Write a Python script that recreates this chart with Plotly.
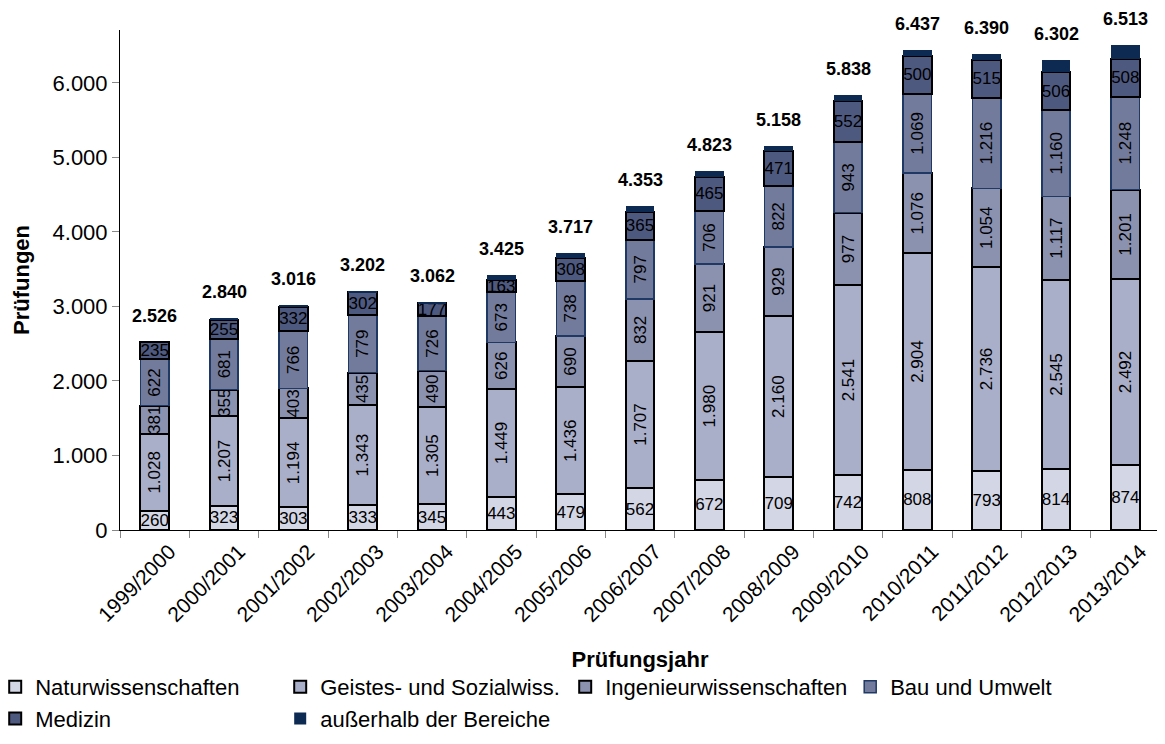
import plotly.graph_objects as go

YEARS = ["1999/2000", "2000/2001", "2001/2002", "2002/2003", "2003/2004",
         "2004/2005", "2005/2006", "2006/2007", "2007/2008", "2008/2009",
         "2009/2010", "2010/2011", "2011/2012", "2012/2013", "2013/2014"]

NATURWISS = [260, 323, 303, 333, 345, 443, 479, 562, 672, 709, 742, 808, 793, 814, 874]
GEISTES = [1028, 1207, 1194, 1343, 1305, 1449, 1436, 1707, 1980, 2160, 2541, 2904, 2736, 2545, 2492]
INGENIEUR = [381, 355, 403, 435, 490, 626, 690, 832, 921, 929, 977, 1076, 1054, 1117, 1201]
BAU = [622, 681, 766, 779, 726, 673, 738, 797, 706, 822, 943, 1069, 1216, 1160, 1248]
MEDIZIN = [235, 255, 332, 302, 177, 163, 308, 365, 465, 471, 552, 500, 515, 506, 508]
AUSSERHALB = [0, 19, 18, 10, 19, 71, 66, 90, 79, 67, 83, 80, 76, 160, 190]
TOTALS = [2526, 2840, 3016, 3202, 3062, 3425, 3717, 4353, 4823, 5158, 5838, 6437, 6390, 6302, 6513]

FONT = "Liberation Sans, Arial, sans-serif"

# name, values, fill, border colour, border width, text angle
SERIES = [
    ("Naturwissenschaften", NATURWISS, "#D3D6E4", "#000000", 2, 0),
    ("Geistes- und Sozialwiss.", GEISTES, "#A9AEC9", "#000000", 2, -90),
    ("Ingenieurwissenschaften", INGENIEUR, "#8B92B0", "#000000", 2, -90),
    ("Bau und Umwelt", BAU, "#737B9C", "#1F3864", 1.5, -90),
    ("Medizin", MEDIZIN, "#4E5980", "#000000", 2, 0),
]

fig = go.Figure()
for name, vals, fill, border, bw, angle in SERIES:
    fig.add_trace(go.Bar(
        x=YEARS, y=vals, name=name,
        marker=dict(color=fill, line=dict(color=border, width=bw)),
        texttemplate="%{y:,}", textposition="inside",
        insidetextanchor="middle", textangle=angle,
        textfont=dict(size=17, color="#000000", family=FONT),
        constraintext="none",
    ))

fig.add_trace(go.Bar(
    x=YEARS, y=AUSSERHALB, name="außerhalb der Bereiche",
    marker=dict(color="#0C2A52", line=dict(width=0)),
))

# bold totals above each stack
for year, total in zip(YEARS, TOTALS):
    fig.add_annotation(
        x=year, y=total, yanchor="bottom", yshift=14, showarrow=False,
        text=f"<b>{total:,}</b>".replace(",", "."),
        font=dict(size=18, color="#000000", family=FONT),
    )

# page body has an 8px margin, so the figure is 8px smaller and shifted
fig.update_layout(
    barmode="stack",
    bargap=0.59,
    separators=",.",
    width=1157, height=736,
    paper_bgcolor="white", plot_bgcolor="white",
    font=dict(family=FONT, size=22, color="#000000"),
    margin=dict(l=112, r=5, t=22, b=214, autoexpand=False),
    uniformtext=dict(minsize=17, mode="show"),
    showlegend=True,
    legend=dict(
        orientation="h", x=-0.120, xanchor="left", yanchor="top", y=-0.272,
        entrywidth=240, font=dict(size=22, family=FONT),
        itemwidth=30, traceorder="normal", tracegroupgap=0,
    ),
    xaxis=dict(
        title=dict(text="<b>Prüfungsjahr</b>", font=dict(size=22), standoff=26),
        tickangle=-45, tickfont=dict(size=21), ticklabelshift=15,
        showline=True, linecolor="#000000", linewidth=1,
        ticks="outside", tickson="boundaries", tickcolor="#888888", ticklen=7,
        showgrid=False, automargin=False,
    ),
    yaxis=dict(
        title=dict(text="<b>Prüfungen</b>", font=dict(size=22), standoff=16),
        range=[0, 6710], dtick=1000, tickformat=",",
        tickfont=dict(size=22),
        showline=True, linecolor="#000000", linewidth=1,
        ticks="outside", tickcolor="#888888", ticklen=7,
        showgrid=False, zeroline=False, automargin=False,
    ),
)

fig.write_html("out.html")
